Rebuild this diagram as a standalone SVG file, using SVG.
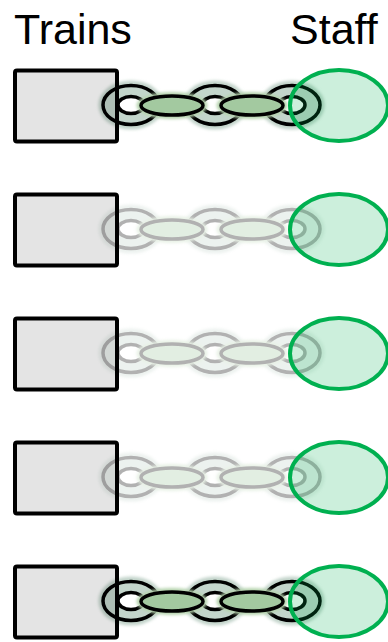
<svg xmlns="http://www.w3.org/2000/svg" xmlns:xlink="http://www.w3.org/1999/xlink" width="388" height="642" viewBox="0 0 388 642">
  <style>
    .title { font-family: "Liberation Sans", Arial, sans-serif; font-size: 43px; fill: #000; }
    .train { fill: #000; fill-opacity: 0.105; stroke: #000; stroke-width: 4; }
    .staff { fill: #00b050; fill-opacity: 0.2; stroke: #00b050; stroke-width: 4; }
    .faded { opacity: 0.3; }
  </style>
  <defs>
    <filter id="soft" x="-30%" y="-50%" width="160%" height="200%">
      <feGaussianBlur stdDeviation="1.6"/>
    </filter>
    <!-- one upright chain ring, centred on the origin -->
    <g id="ring">
      <ellipse rx="32.5" ry="24.5" fill="#c3d4cb" filter="url(#soft)"/>
      <ellipse rx="28" ry="19.5" fill="#c3d5cb" stroke="#000" stroke-width="3.5"/>
      <ellipse rx="13" ry="8.5" fill="#fff" stroke="#000" stroke-width="3.5"/>
    </g>
    <!-- one flat chain link, centred on the origin -->
    <g id="link">
      <ellipse rx="35.5" ry="13.5" fill="#b6d4ae" filter="url(#soft)"/>
      <ellipse rx="31" ry="9.5" fill="#a3c9a0" stroke="#000" stroke-width="3.5"/>
    </g>
    <!-- full chain between a train and its staff -->
    <g id="chain">
      <use xlink:href="#ring" x="131" y="105"/>
      <use xlink:href="#ring" x="215" y="105"/>
      <use xlink:href="#ring" x="292" y="105"/>
      <use xlink:href="#link" x="172" y="105.5"/>
      <use xlink:href="#link" x="252" y="105.5"/>
    </g>
  </defs>

  <text class="title" x="14" y="44">Trains</text>
  <text class="title" x="290" y="44">Staff</text>

  <g id="connectors">
    <use xlink:href="#chain"/>
    <use xlink:href="#chain" y="124" class="faded"/>
    <use xlink:href="#chain" y="248" class="faded"/>
    <use xlink:href="#chain" y="372" class="faded"/>
    <use xlink:href="#chain" y="496"/>
  </g>

  <g id="train1"><rect class="train" x="15" y="70.5" width="102" height="71" rx="2"/></g>
  <g id="train2"><rect class="train" x="15" y="194.5" width="102" height="71" rx="2"/></g>
  <g id="train3"><rect class="train" x="15" y="318.5" width="102" height="71" rx="2"/></g>
  <g id="train4"><rect class="train" x="15" y="442.5" width="102" height="71" rx="2"/></g>
  <g id="train5"><rect class="train" x="15" y="566.5" width="102" height="71" rx="2"/></g>

  <g id="staff1"><ellipse class="staff" cx="339" cy="105.5" rx="49" ry="35.5"/></g>
  <g id="staff2"><ellipse class="staff" cx="339" cy="229.5" rx="49" ry="35.5"/></g>
  <g id="staff3"><ellipse class="staff" cx="339" cy="353.5" rx="49" ry="35.5"/></g>
  <g id="staff4"><ellipse class="staff" cx="339" cy="477.5" rx="49" ry="35.5"/></g>
  <g id="staff5"><ellipse class="staff" cx="339" cy="601.5" rx="49" ry="35.5"/></g>
</svg>
